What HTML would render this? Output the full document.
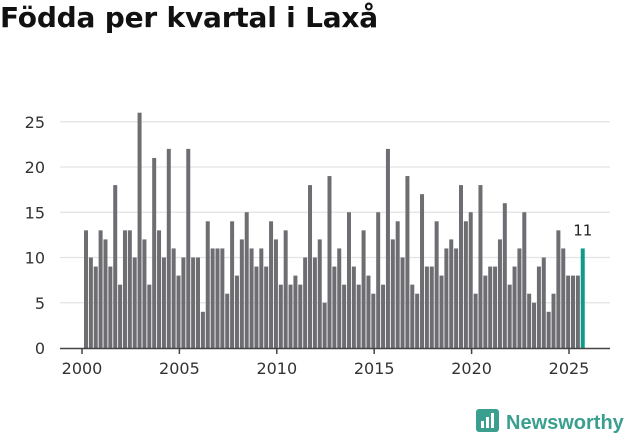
<!DOCTYPE html>
<html><head><meta charset="utf-8"><style>
body{margin:0;background:#fff;width:631px;height:439px;overflow:hidden;font-family:"Liberation Sans","DejaVu Sans",sans-serif}
h1{position:absolute;left:0;top:1px;margin:0;font-family:"DejaVu Sans",sans-serif;font-size:28px;font-weight:bold;color:#111;letter-spacing:-0.2px}
</style></head><body>
<h1>Födda per kvartal i Laxå</h1>
<svg id="chart" width="631" height="439" style="position:absolute;left:0;top:0">
<g id="grid"></g><g id="bars"></g><g id="axis"></g>
<g>
<rect x="476" y="409" width="23" height="23" rx="3" fill="#3a9f8f"/>
<rect x="481" y="421" width="3" height="7" fill="#fff"/><rect x="486" y="417" width="3" height="11" fill="#fff"/><rect x="491" y="413" width="3" height="15" fill="#fff"/>
<text x="506" y="429" font-size="20" font-weight="bold" fill="#3a9f8f" font-family="Liberation Sans, sans-serif">Newsworthy</text>
</g>
</svg>
<script>
const values=[13,10,9,13,12,9,18,7,13,13,10,26,12,7,21,13,10,22,11,8,10,22,10,10,4,14,11,11,11,6,14,8,12,15,
11,9,11,9,14,12,7,13,7,8,7,10,18,10,12,5,19,9,11,7,15,9,7,13,8,6,15,7,22,12,14,10,19,7,6,17,
9,9,14,8,11,12,11,18,14,15,6,18,8,9,9,12,16,7,9,11,15,6,5,9,10,4,6,13,11,8,8,8,11];
const startYear=2000;
const yTicks=[0,5,10,15,20,25];
const xTicks=[2000,2005,2010,2015,2020,2025];
const NS="http://www.w3.org/2000/svg";
const y=v=>348-v*9.05;
const x=t=>82+(t-2000)*19.48;
function mk(tag,attrs,parent){const e=document.createElementNS(NS,tag);for(const k in attrs)e.setAttribute(k,attrs[k]);parent.appendChild(e);return e;}
const grid=document.getElementById('grid'),bars=document.getElementById('bars'),axis=document.getElementById('axis');
yTicks.forEach(v=>{
 if(v>0){const l=mk('line',{x1:60,x2:610,y1:y(v),y2:y(v),stroke:'#e3e3e3','stroke-width':1.3},grid);
 
 }
 const t=mk('text',{x:45,y:y(v)+6,'text-anchor':'end','font-size':16,fill:'#333','font-family':'DejaVu Sans, sans-serif'},grid);
 t.textContent=v;
 
 
});
values.forEach((v,i)=>{
 const last=i===values.length-1;
 const r=mk('rect',{x:x(startYear+i/4)+2,y:y(v),width:4,height:348-y(v),fill:last?'#0f9a8c':'#6e6d72'},bars);
 
 
 if(last){const t=mk('text',{x:x(startYear+i/4)+4,y:y(v)-13,'text-anchor':'middle','font-size':15,fill:'#222','font-family':'DejaVu Sans, sans-serif'},bars);
 t.textContent=v;
 
 }
});
const ax=mk('line',{x1:60,x2:610,y1:348.5,y2:348.5,stroke:'#444','stroke-width':1.5},axis);


xTicks.forEach(yr=>{
 mk('line',{x1:x(yr),x2:x(yr),y1:348,y2:354,stroke:'#444','stroke-width':1.5},axis);
 const t=mk('text',{x:x(yr),y:374,'text-anchor':'middle','font-size':16,fill:'#333','font-family':'DejaVu Sans, sans-serif'},axis);
 t.textContent=yr;
 
 
});
</script>
</body></html>
